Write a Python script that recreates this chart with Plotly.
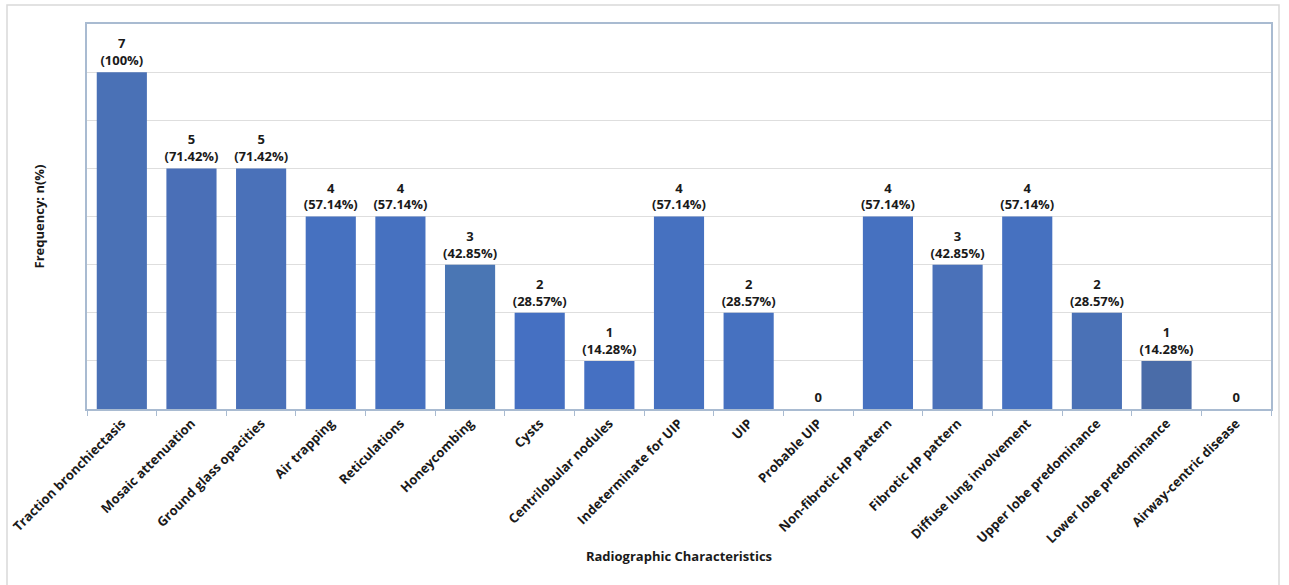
import plotly.graph_objects as go

categories = [
    "Traction bronchiectasis", "Mosaic attenuation", "Ground glass opacities",
    "Air trapping", "Reticulations", "Honeycombing", "Cysts",
    "Centrilobular nodules", "Indeterminate for UIP", "UIP", "Probable UIP",
    "Non-fibrotic HP pattern", "Fibrotic HP pattern", "Diffuse lung involvement",
    "Upper lobe predominance", "Lower lobe predominance", "Airway-centric disease",
]
counts = [7, 5, 5, 4, 4, 3, 2, 1, 4, 2, 0, 4, 3, 4, 2, 1, 0]
percents = ["100", "71.42", "71.42", "57.14", "57.14", "42.85", "28.57", "14.28",
            "57.14", "28.57", "", "57.14", "42.85", "57.14", "28.57", "14.28", ""]
bar_colors = ["#4a71b6", "#4a6fb7", "#4a71b9", "#4671c0", "#4671c0", "#4a76b4",
              "#4570c2", "#4570c2", "#4671c0", "#4671c0", "#4671c0", "#4671c0",
              "#4a71b9", "#4671c0", "#4a71b6", "#4a6ca8", "#4671c0"]

labels = [f"<b>{n}</b>" if p == "" else f"<b>{n}<br>({p}%)</b>"
          for n, p in zip(counts, percents)]

FONT = "Open Sans, Liberation Sans, Arial, sans-serif"

fig = go.Figure(go.Bar(
    x=categories, y=counts, marker=dict(color=bar_colors, line=dict(width=0)),
    text=labels, textposition="outside", constraintext="none", cliponaxis=False,
    textfont=dict(family=FONT, size=13, color="#1a1a1a"),
))

# plot-area geometry in pixels for the outer chart border
L, R, T, B, W, H = 87, 18, 24, 176, 1289, 585
pw, ph = W - L - R, H - T - B

def px_x(x):
    return (x - L) / pw

def px_y(y):
    return (H - B - y) / ph

fig.update_layout(
    width=W, height=H, margin=dict(l=L, r=R, t=T, b=B),
    paper_bgcolor="white", plot_bgcolor="white",
    bargap=0.28, showlegend=False,
    font=dict(family=FONT, size=13, color="#1a1a1a"),
    xaxis=dict(
        automargin=False,
        tickangle=-45, ticks="outside", tickson="boundaries", ticklen=5,
        tickcolor="#a9bbd1", showline=True, linecolor="#a9bbd1", linewidth=1.5,
        mirror=True, tickfont=dict(family=FONT, size=13, color="#1a1a1a"),
        tickprefix="<b>", ticksuffix="</b>",
        title=dict(text="<b>Radiographic Characteristics</b>",
                   font=dict(family=FONT, size=13), standoff=6),
    ),
    yaxis=dict(
        automargin=False,
        range=[0, 8], dtick=1, showticklabels=False, showgrid=True,
        gridcolor="#dedede", showline=True, linecolor="#a9bbd1", linewidth=1.5,
        mirror=True, zeroline=False,
        title=dict(text="<b>Frequency: n(%)</b>",
                   font=dict(family=FONT, size=13), standoff=38),
    ),
    shapes=[dict(type="rect", xref="paper", yref="paper",
                 x0=px_x(7), x1=px_x(1279), y0=px_y(600), y1=px_y(5),
                 line=dict(color="#d9d9d9", width=1.5), layer="below")],
)

fig.write_html("out.html")
